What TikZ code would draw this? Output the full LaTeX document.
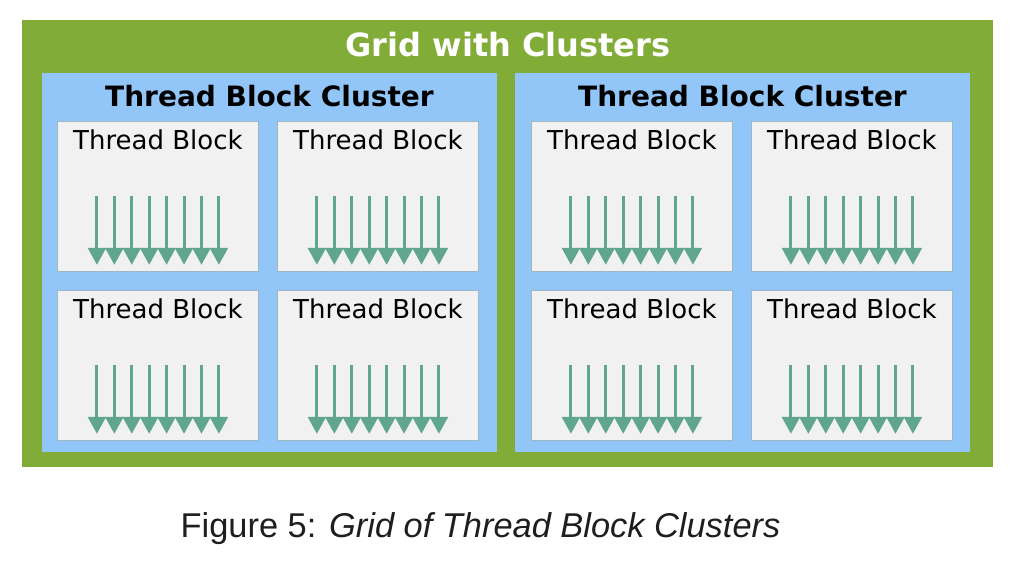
\documentclass[tikz,border=0pt]{standalone}
\usepackage{fontspec}
\setmainfont{DejaVu Sans}
\newfontfamily\capfont{Liberation Sans}
\usetikzlibrary{arrows.meta,calc}
\definecolor{gridgreen}{HTML}{82AC38}
\definecolor{clusterblue}{HTML}{92C6F8}
\definecolor{blockfill}{HTML}{F1F1F1}
\definecolor{blockedge}{HTML}{9DB8C0}
\definecolor{threadcol}{HTML}{5FA68C}
\definecolor{captext}{HTML}{1E1E1E}
\tikzset{
  gridbox/.style={fill=gridgreen, draw=none, inner sep=0pt, anchor=north west},
  clusterbox/.style={fill=clusterblue, draw=none, inner sep=0pt, anchor=north west, minimum width=455pt, minimum height=379pt},
  blockbox/.style={fill=blockfill, draw=blockedge, line width=0.8pt, inner sep=0pt, anchor=north west, minimum width=201pt, minimum height=150pt},
  gridtitle/.style={font=\bfseries\fontsize{32}{36}\selectfont, text=white},
  clustertitle/.style={font=\bfseries\fontsize{28}{32}\selectfont, text=black},
  blocktitle/.style={font=\fontsize{26}{30}\selectfont, text=black},
  thread/.style={draw=threadcol, line width=3pt, -{Triangle[length=17pt,width=17.8pt]}},
  captionstyle/.style={font=\capfont\fontsize{34.4}{38}\selectfont, text=captext, anchor=base}
}
\begin{document}
\begin{tikzpicture}[x=1pt,y=-1pt]
\useasboundingbox (0,0) rectangle (1016,574);
\fill[white] (0,0) rectangle (1016,574);
% grid
\node[gridbox, minimum width=971pt, minimum height=447pt] (grid) at (22,20) {};
\node[gridtitle] (gridt) at (508,45) {Grid with Clusters};
% clusters
\node[clusterbox] (c1) at (42,73) {};
\node[clusterbox] (c2) at (515,73) {};
\node[clustertitle] (c1t) at (269.5,96) {Thread Block Cluster};
\node[clustertitle] (c2t) at (742.5,96) {Thread Block Cluster};
% blocks
\foreach \nm/\bx/\by in {b11/57/121, b12/277/121, b13/57/290, b14/277/290,
                         b21/531/121, b22/751/121, b23/531/290, b24/751/290}{
  \node[blockbox] (\nm) at (\bx,\by) {};
  \node[blocktitle] (\nm t) at ($(\nm.north)+(0,19)$) {Thread Block};
  \foreach \k in {0,...,7}{
    \coordinate (\nm s\k) at ($(\nm.south)+(-61+\k*17.43,-76)$);
    \coordinate (\nm e\k) at ($(\nm.south)+(-61+\k*17.43,-7)$);
    \draw[thread] (\nm s\k) -- (\nm e\k);
  }
}
% caption
\node[captionstyle] (cap) at (480.5,537) {Figure 5: \textit{Grid of Thread Block Clusters}};
\end{tikzpicture}
\end{document}
